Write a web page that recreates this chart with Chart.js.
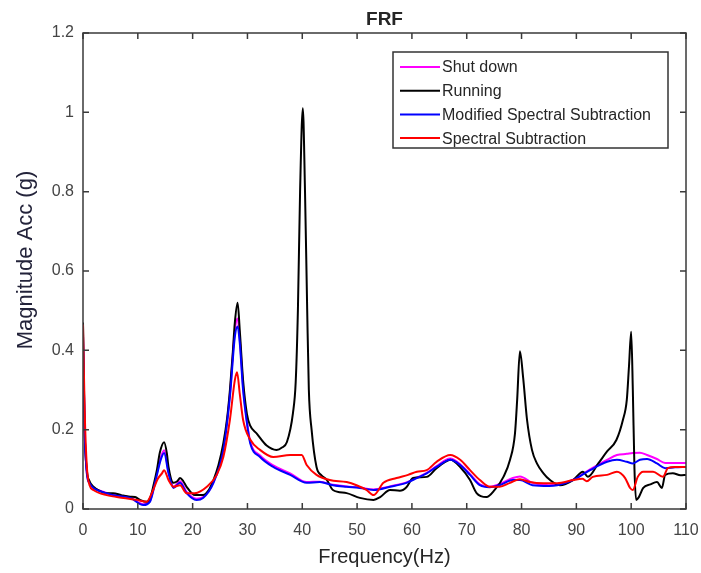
<!DOCTYPE html>
<html>
<head>
<meta charset="utf-8">
<title>FRF</title>
<script src="https://cdn.jsdelivr.net/npm/chart.js@4.4.1/dist/chart.umd.min.js"></script>
<style>
  html, body { margin: 0; padding: 0; background: #fff; }
  #wrap { width: 701px; height: 573px; }
</style>
</head>
<body>
<div id="wrap"><canvas id="frf" width="701" height="573"></canvas></div>
<script>
// values (Hz, g)
const runningHz = [0, 0.3, 0.7, 1.2, 1.9, 3.1, 4.3, 5.5, 7, 8.6, 9.5, 10.4, 11.6, 12.3, 12.8, 13.5, 14, 14.8, 15.3, 15.6,
  16.5, 17.2, 17.7, 18.3, 18.9, 20.4, 21.9, 22.8, 23.8, 24.7, 25.6, 26.3, 26.8, 27.3, 27.7, 28.2, 28.6, 29.2, 29.9, 30.5,
  31.7, 33.5, 35.3, 36.3, 37.2, 38.3, 38.8, 39.2, 39.6, 40.1, 40.5, 40.9, 41.2, 41.7, 42.6, 43.5, 44.5, 45.6, 48.1, 50.5,
  53, 54.2, 56, 57.8, 59, 60.2, 62.7, 64.5, 66, 67, 68.8, 70.6, 71.8, 73.6, 75.1, 76.7, 77.9, 78.8, 79.2, 79.7,
  80.3, 81, 81.9, 82.8, 84, 85.2, 87, 89.4, 91.2, 92.1, 94, 95.6, 97.3, 98.5, 99.2, 99.6, 100, 100.3, 100.6, 100.9,
  101.4, 102.2, 103.5, 104.7, 105.6, 106.2, 107.6, 109, 110]
const runningAcc = [0.47, 0.2, 0.098, 0.07, 0.056, 0.045, 0.04, 0.04, 0.035, 0.031, 0.03, 0.023, 0.018, 0.03, 0.056, 0.1, 0.141, 0.168, 0.14, 0.106,
  0.066, 0.07, 0.078, 0.07, 0.056, 0.035, 0.035, 0.045, 0.073, 0.11, 0.166, 0.23, 0.3, 0.39, 0.47, 0.52, 0.45, 0.325, 0.24, 0.21,
  0.19, 0.16, 0.149, 0.155, 0.169, 0.242, 0.32, 0.5, 0.8, 1.01, 0.8, 0.5, 0.3, 0.2, 0.106, 0.085, 0.073, 0.048, 0.04, 0.028,
  0.023, 0.03, 0.048, 0.046, 0.055, 0.078, 0.081, 0.103, 0.118, 0.124, 0.106, 0.073, 0.04, 0.03, 0.048, 0.081, 0.124, 0.19, 0.275, 0.398,
  0.33, 0.225, 0.149, 0.115, 0.09, 0.073, 0.06, 0.073, 0.094, 0.081, 0.115, 0.145, 0.174, 0.225, 0.275, 0.36, 0.447, 0.3, 0.1, 0.023,
  0.03, 0.053, 0.062, 0.068, 0.053, 0.086, 0.09, 0.085, 0.086]

const modifiedHz = [0, 0.3, 0.7, 1.2, 1.9, 3.1, 5.5, 8.6, 11, 12.2, 13.4, 14.2, 14.8, 15.6, 16.5, 17.7, 18.9, 20.7, 21.9, 23.8,
  25.6, 26.8, 27.7, 28.2, 28.6, 29.2, 29.9, 30.5, 32.3, 34.7, 37.8, 40.8, 43.2, 45.6, 48.1, 50.5, 53, 56, 59, 60.9,
  62.7, 64.5, 67, 68.8, 70.6, 72.4, 74.2, 76, 78.4, 79.7, 82, 85, 86.5, 89.4, 92.5, 95.6, 97.4, 99.2, 100.3, 101.6,
  102.9, 104.7, 106.2, 108, 110]
const modifiedAcc = [0.44, 0.2, 0.09, 0.065, 0.053, 0.045, 0.035, 0.028, 0.01, 0.018, 0.081, 0.125, 0.141, 0.09, 0.053, 0.066, 0.04, 0.023, 0.028, 0.066,
  0.149, 0.283, 0.434, 0.46, 0.418, 0.3, 0.217, 0.166, 0.131, 0.106, 0.086, 0.066, 0.068, 0.06, 0.056, 0.053, 0.048, 0.056, 0.066, 0.078,
  0.09, 0.106, 0.124, 0.111, 0.086, 0.06, 0.055, 0.06, 0.073, 0.073, 0.06, 0.058, 0.06, 0.073, 0.098, 0.119, 0.124, 0.119, 0.115, 0.124,
  0.126, 0.115, 0.103, 0.105, 0.106]

// shut down uses the same frequencies as the modified curve
const shutDownHz = modifiedHz
const shutDownAcc = [0.44, 0.2, 0.092, 0.066, 0.054, 0.046, 0.036, 0.029, 0.012, 0.02, 0.085, 0.13, 0.148, 0.095, 0.056, 0.07, 0.043, 0.026, 0.03, 0.068,
  0.152, 0.29, 0.45, 0.48, 0.43, 0.31, 0.222, 0.17, 0.135, 0.11, 0.09, 0.068, 0.069, 0.061, 0.057, 0.054, 0.049, 0.057, 0.067, 0.079,
  0.091, 0.108, 0.127, 0.113, 0.088, 0.062, 0.056, 0.063, 0.078, 0.082, 0.066, 0.06, 0.061, 0.074, 0.1, 0.124, 0.136, 0.139, 0.141, 0.142,
  0.136, 0.126, 0.116, 0.116, 0.116]

const spectralHz = [0, 0.3, 0.7, 1.2, 1.9, 4.3, 7.4, 9.8, 11.6, 12.8, 13.6, 14.4, 14.8, 15.6, 16.5, 17.7, 18.9, 20.4, 22.6, 24.4,
  25.6, 26.8, 27.7, 28.1, 28.6, 29.2, 30.5, 32.3, 34.7, 37.8, 39.9, 40.8, 42.6, 45, 48.1, 49.9, 51.7, 53, 54.8, 57.2,
  59.3, 60.9, 62.7, 64.5, 67, 68.8, 70.6, 72.4, 74.2, 76, 77.9, 79.7, 81.5, 84, 86.5, 89.4, 91.1, 91.9, 93, 95.6,
  97.4, 98.9, 99.8, 100.3, 101.2, 102.2, 104, 105.8, 106.7, 108, 110]
const spectralAcc = [0.465, 0.25, 0.107, 0.06, 0.048, 0.035, 0.028, 0.023, 0.018, 0.048, 0.075, 0.09, 0.098, 0.073, 0.056, 0.06, 0.04, 0.04, 0.056, 0.086,
  0.131, 0.225, 0.325, 0.345, 0.29, 0.225, 0.175, 0.149, 0.131, 0.136, 0.136, 0.111, 0.086, 0.073, 0.068, 0.06, 0.048, 0.035, 0.066, 0.078,
  0.086, 0.094, 0.098, 0.119, 0.136, 0.124, 0.098, 0.073, 0.056, 0.056, 0.066, 0.075, 0.068, 0.065, 0.065, 0.073, 0.076, 0.07, 0.081, 0.086,
  0.094, 0.078, 0.053, 0.048, 0.081, 0.094, 0.094, 0.081, 0.103, 0.106, 0.106]

const seriesNames = ["Shut down", "Running", "Modified Spectral Subtraction", "Spectral Subtraction"]
const seriesColors = ["#ff00ff", "#000000", "#0000ff", "#ff0000"]

function pts(hz, acc){
    return hz.map((f, i) => ({x: f, y: acc[i]}))
}

// frame with inward ticks, title, y label and legend, like the matlab figure
const frfDecor = {
    id: "frfDecor",
    afterDatasetsDraw(chart){
        const ctx = chart.ctx
        const a = chart.chartArea
        const xs = chart.scales.x
        const ys = chart.scales.y
        const tl = 6
        ctx.save()
        ctx.strokeStyle = "#3a3a3a"
        ctx.lineWidth = 1.5
        ctx.strokeRect(a.left, a.top, a.right - a.left, a.bottom - a.top)
        ctx.beginPath()
        xs.ticks.forEach(t => {
            const px = xs.getPixelForValue(t.value)
            ctx.moveTo(px, a.bottom); ctx.lineTo(px, a.bottom - tl)
            ctx.moveTo(px, a.top); ctx.lineTo(px, a.top + tl)
        })
        ys.ticks.forEach(t => {
            const py = ys.getPixelForValue(t.value)
            ctx.moveTo(a.left, py); ctx.lineTo(a.left + tl, py)
            ctx.moveTo(a.right, py); ctx.lineTo(a.right - tl, py)
        })
        ctx.stroke()

        // title
        ctx.fillStyle = "#262626"
        ctx.font = "bold 19px 'Liberation Sans', Arial, sans-serif"
        ctx.textAlign = "center"
        ctx.textBaseline = "middle"
        ctx.fillText("FRF", (a.left + a.right) / 2, 20)

        // y label
        ctx.save()
        ctx.translate(26, 260)
        ctx.rotate(-Math.PI / 2)
        ctx.font = "22px 'Liberation Sans', Arial, sans-serif"
        ctx.fillStyle = "#23233a"
        ctx.fillText("Magnitude Acc (g)", 0, 0)
        ctx.restore()

        // legend box
        const lx = a.right - 293, ly = a.top + 19, lw = 275, lh = 96
        ctx.fillStyle = "#ffffff"
        ctx.fillRect(lx, ly, lw, lh)
        ctx.strokeStyle = "#333333"
        ctx.lineWidth = 1.5
        ctx.strokeRect(lx, ly, lw, lh)
        ctx.font = "16px 'Liberation Sans', Arial, sans-serif"
        ctx.textAlign = "left"
        chart.data.datasets.forEach((ds, i) => {
            const ry = ly + 15 + i * 23.7
            ctx.strokeStyle = ds.borderColor
            ctx.lineWidth = 2
            ctx.beginPath()
            ctx.moveTo(lx + 7, ry); ctx.lineTo(lx + 47, ry)
            ctx.stroke()
            ctx.fillStyle = "#262626"
            ctx.fillText(ds.label, lx + 49, ry + 1, lw - 56)
        })
        ctx.restore()
    }
}

const datos = [
    pts(shutDownHz, shutDownAcc),
    pts(runningHz, runningAcc),
    pts(modifiedHz, modifiedAcc),
    pts(spectralHz, spectralAcc)
]

const config = {
    type: "line",
    data: {
        datasets: seriesNames.map((nombre, i) => ({
            label: nombre,
            data: datos[i],
            borderColor: seriesColors[i],
            backgroundColor: seriesColors[i],
            borderWidth: 2,
            pointRadius: 0,
            cubicInterpolationMode: "monotone",
            fill: false,
            order: 4 - i
        }))
    },
    options: {
        responsive: false,
        animation: false,
        devicePixelRatio: 1,
        layout: {padding: {top: 33, right: 15, left: 0, bottom: 0}},
        plugins: {
            legend: {display: false},
            title: {display: false},
            tooltip: {enabled: false}
        },
        scales: {
            x: {
                type: "linear",
                min: 0,
                max: 110,
                afterFit: s => { s.height = 64; s.paddingLeft = 0; s.paddingRight = 0 },
                grid: {display: false, drawTicks: false},
                border: {display: false},
                ticks: {
                    stepSize: 10,
                    padding: 12,
                    color: "#444444",
                    font: {size: 16, family: "'Liberation Sans', Arial, sans-serif"}
                },
                title: {
                    display: true,
                    text: "Frequency(Hz)",
                    color: "#262626",
                    padding: {top: 0, bottom: 4},
                    font: {size: 20, family: "'Liberation Sans', Arial, sans-serif"}
                }
            },
            y: {
                min: 0,
                max: 1.2,
                afterFit: s => { s.width = 83; s.paddingTop = 0; s.paddingBottom = 0 },
                grid: {display: false, drawTicks: false},
                border: {display: false},
                ticks: {
                    stepSize: 0.2,
                    padding: 9,
                    color: "#444444",
                    font: {size: 16, family: "'Liberation Sans', Arial, sans-serif"},
                    callback: v => String(Number(v.toFixed(1)))
                }
            }
        }
    },
    plugins: [frfDecor]
}

window.grafica = new Chart(document.getElementById("frf"), config)
</script>
</body>
</html>
